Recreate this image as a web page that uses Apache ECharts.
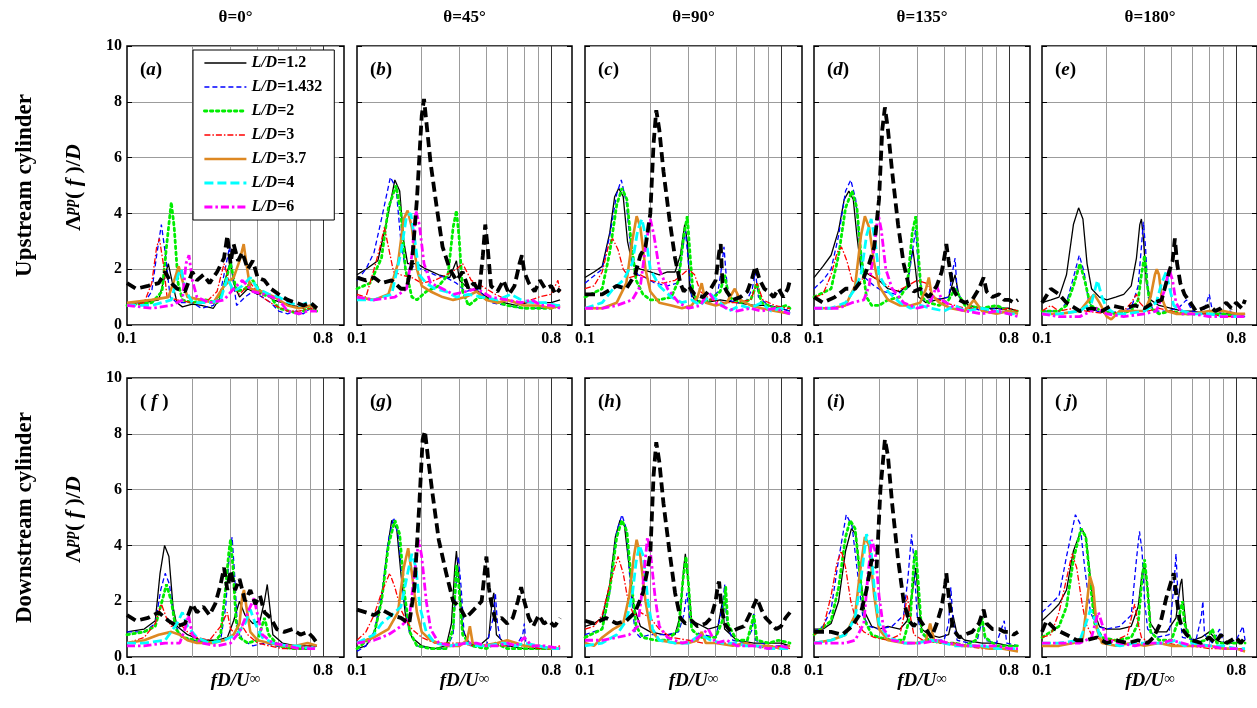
<!DOCTYPE html>
<html><head><meta charset="utf-8">
<script src="https://cdn.jsdelivr.net/npm/echarts@6/dist/echarts.min.js"></script>
<style>html,body{margin:0;padding:0;background:#fff}#c{width:1257px;height:708px}</style>
</head><body><div id="c"></div><script>
// ---------- labels ----------
const thetaLabels = ['θ=0°','θ=45°','θ=90°','θ=135°','θ=180°'];
const panelLetters = ['a','b','c','d','e','f','g','h','i','j'];
const seriesNames = ['L/D=1.2','L/D=1.432','L/D=2','L/D=3','L/D=3.7','L/D=4','L/D=6','Reference'];
const xTickLabels = [0.1, 0.8];
const xGridValues = [0.2,0.3,0.4,0.5,0.6,0.7,0.8];
const yMin = 0, yMax = 10, yStep = 2;
const xMin = 0.1, xMax = 1;
const rowNames = ['Upstream cylinder','Downstream cylinder'];

// ---------- data: [fD/U, Lambda_pp/D] ----------
// (a)
const a_ld12=[[0.1,0.8],[0.12,0.8],[0.14,0.9],[0.15,1.8],[0.155,2.2],[0.162,1.5],[0.17,0.8],[0.18,0.65],[0.2,0.75],[0.22,0.7],[0.25,0.6],[0.27,1.0],[0.29,1.9],[0.3,2.3],[0.31,1.5],[0.33,1.0],[0.36,1.3],[0.4,1.1],[0.43,1.2],[0.47,0.9],[0.52,0.8],[0.58,0.7],[0.65,0.6],[0.7,0.7],[0.75,0.5]];
const a_ld1432=[[0.1,0.8],[0.12,0.8],[0.13,1.2],[0.137,2.5],[0.144,3.6],[0.15,2.6],[0.158,1.0],[0.17,0.8],[0.2,0.8],[0.22,0.6],[0.25,0.7],[0.27,1.2],[0.29,2.4],[0.297,2.8],[0.31,1.5],[0.32,0.7],[0.35,1.0],[0.38,1.2],[0.42,1.0],[0.46,0.8],[0.5,0.5],[0.55,0.4],[0.6,0.5],[0.65,0.4],[0.7,0.6],[0.75,0.5]];
const a_ld2=[[0.1,0.7],[0.13,0.8],[0.145,1.2],[0.152,2.8],[0.16,4.4],[0.165,3.5],[0.172,1.5],[0.18,0.9],[0.2,0.8],[0.23,0.9],[0.26,0.8],[0.28,1.4],[0.3,2.2],[0.32,1.2],[0.35,1.3],[0.38,1.6],[0.42,1.1],[0.46,1.0],[0.5,0.6],[0.56,0.5],[0.62,0.4],[0.68,0.6],[0.75,0.5]];
const a_ld3=[[0.1,0.7],[0.12,0.8],[0.13,1.5],[0.137,2.8],[0.141,3.1],[0.147,2.2],[0.153,1.0],[0.17,0.9],[0.2,0.8],[0.23,0.8],[0.26,1.2],[0.28,2.2],[0.3,1.4],[0.33,1.1],[0.37,1.5],[0.42,1.0],[0.48,0.7],[0.55,0.5],[0.62,0.5],[0.7,0.6],[0.75,0.5]];
const a_ld37=[[0.1,0.8],[0.13,0.9],[0.155,1.0],[0.165,1.6],[0.173,2.1],[0.18,1.6],[0.19,1.0],[0.22,0.9],[0.25,0.8],[0.28,1.4],[0.31,1.7],[0.33,2.3],[0.345,2.9],[0.355,2.2],[0.37,1.3],[0.42,1.2],[0.48,1.0],[0.55,0.7],[0.62,0.6],[0.7,0.7],[0.75,0.6]];
const a_ld4=[[0.1,0.7],[0.13,0.7],[0.16,0.9],[0.172,1.8],[0.178,2.0],[0.185,1.3],[0.2,0.8],[0.24,0.8],[0.27,0.9],[0.29,1.7],[0.31,1.2],[0.34,1.4],[0.37,1.7],[0.4,1.3],[0.45,1.1],[0.5,1.0],[0.56,0.8],[0.62,0.7],[0.68,0.8],[0.73,0.7]];
const a_ld6=[[0.1,0.7],[0.13,0.6],[0.16,0.7],[0.18,0.9],[0.187,2.2],[0.193,2.5],[0.2,1.6],[0.21,1.0],[0.24,0.8],[0.28,0.9],[0.31,1.3],[0.34,1.6],[0.38,1.2],[0.43,1.1],[0.5,0.9],[0.55,0.5],[0.62,0.4],[0.68,0.5],[0.75,0.5]];
const a_ref=[[0.1,1.5],[0.11,1.3],[0.125,1.4],[0.14,1.5],[0.15,1.9],[0.16,1.5],[0.17,1.3],[0.185,1.2],[0.2,1.9],[0.21,1.6],[0.225,1.8],[0.24,1.5],[0.26,1.9],[0.28,2.4],[0.29,3.2],[0.3,2.2],[0.31,2.9],[0.325,2.3],[0.34,2.6],[0.36,2.0],[0.38,2.3],[0.4,1.7],[0.43,1.6],[0.46,1.3],[0.5,1.1],[0.55,0.9],[0.6,0.8],[0.65,0.7],[0.7,0.8],[0.75,0.6]];
// (b)
const b_ld12=[[0.1,1.8],[0.11,2.0],[0.125,2.3],[0.14,4.0],[0.15,5.2],[0.158,4.8],[0.165,3.0],[0.172,2.2],[0.19,2.2],[0.21,2.0],[0.24,1.8],[0.27,1.7],[0.29,2.3],[0.3,1.6],[0.33,1.3],[0.37,1.2],[0.42,0.9],[0.48,0.8],[0.55,0.7],[0.62,0.8],[0.7,0.8],[0.8,0.8],[0.88,0.9]];
const b_ld1432=[[0.1,1.6],[0.11,2.0],[0.12,2.6],[0.13,3.8],[0.143,5.3],[0.152,4.9],[0.16,3.0],[0.168,2.0],[0.18,2.1],[0.2,2.0],[0.23,1.8],[0.26,1.7],[0.29,1.5],[0.32,1.2],[0.36,1.3],[0.42,0.8],[0.5,0.7],[0.58,0.6],[0.65,0.6],[0.72,0.6],[0.8,0.6],[0.88,0.7]];
const b_ld2=[[0.1,1.3],[0.115,1.5],[0.13,2.4],[0.14,4.2],[0.152,5.0],[0.16,4.0],[0.168,2.0],[0.18,1.0],[0.19,0.9],[0.21,1.2],[0.24,1.4],[0.265,1.8],[0.28,3.5],[0.29,4.1],[0.298,3.2],[0.31,1.2],[0.33,0.7],[0.37,1.0],[0.42,0.9],[0.5,0.7],[0.6,0.6],[0.7,0.6],[0.8,0.6],[0.88,0.7]];
const b_ld3=[[0.1,1.1],[0.11,1.0],[0.12,2.0],[0.128,2.8],[0.134,3.5],[0.14,2.8],[0.148,1.9],[0.16,1.8],[0.18,1.7],[0.2,1.5],[0.23,1.6],[0.26,1.8],[0.29,2.0],[0.31,2.2],[0.34,1.6],[0.38,1.4],[0.44,1.1],[0.5,0.9],[0.6,0.8],[0.7,1.0],[0.8,1.1],[0.86,1.6],[0.88,1.2]];
const b_ld37=[[0.1,1.0],[0.12,0.9],[0.14,1.1],[0.155,2.2],[0.165,3.8],[0.172,4.1],[0.18,3.5],[0.19,2.0],[0.2,1.4],[0.22,1.2],[0.25,1.0],[0.28,0.9],[0.32,1.0],[0.36,1.2],[0.4,0.9],[0.45,0.8],[0.5,0.9],[0.6,0.7],[0.7,0.7],[0.8,0.6],[0.88,0.7]];
const b_ld4=[[0.1,0.9],[0.12,0.9],[0.145,1.1],[0.16,2.6],[0.17,3.9],[0.178,4.0],[0.186,3.0],[0.195,1.8],[0.21,1.5],[0.23,1.3],[0.26,1.2],[0.29,1.0],[0.33,1.1],[0.38,1.0],[0.45,0.9],[0.52,1.1],[0.58,0.9],[0.66,0.8],[0.75,0.8],[0.85,0.7],[0.88,0.7]];
const b_ld6=[[0.1,1.0],[0.12,0.9],[0.15,1.0],[0.17,1.3],[0.18,2.5],[0.188,4.1],[0.195,3.6],[0.205,2.2],[0.22,1.5],[0.25,1.3],[0.28,1.1],[0.32,1.2],[0.36,1.3],[0.42,1.0],[0.5,0.9],[0.58,0.8],[0.65,0.9],[0.72,0.7],[0.8,0.7],[0.88,0.6]];
const b_ref=[[0.1,1.7],[0.11,1.6],[0.12,1.7],[0.13,1.5],[0.145,1.6],[0.16,1.3],[0.17,1.3],[0.18,2.2],[0.19,4.5],[0.2,7.5],[0.205,8.1],[0.212,7.0],[0.22,5.8],[0.235,4.2],[0.25,2.8],[0.27,2.0],[0.29,1.6],[0.31,1.9],[0.33,1.3],[0.35,1.5],[0.37,1.2],[0.385,2.5],[0.395,3.6],[0.405,2.8],[0.42,1.4],[0.45,1.2],[0.48,1.6],[0.51,1.1],[0.54,1.4],[0.57,2.2],[0.585,2.5],[0.6,1.9],[0.63,1.5],[0.67,1.2],[0.71,1.6],[0.75,1.3],[0.8,1.4],[0.84,1.1],[0.88,1.3]];
// (c)
const c_ld12=[[0.1,1.7],[0.11,1.9],[0.12,2.1],[0.13,3.3],[0.137,4.6],[0.143,4.9],[0.15,4.6],[0.157,3.0],[0.165,2.2],[0.18,2.0],[0.2,1.9],[0.22,1.8],[0.24,1.9],[0.26,1.9],[0.275,2.5],[0.288,3.6],[0.296,3.0],[0.305,1.2],[0.32,0.9],[0.36,0.8],[0.42,0.9],[0.5,0.8],[0.6,0.7],[0.7,0.7],[0.8,0.6],[0.88,0.5]];
const c_ld1432=[[0.1,1.5],[0.12,2.0],[0.13,3.2],[0.14,4.7],[0.147,5.2],[0.155,4.4],[0.163,2.6],[0.175,1.8],[0.19,1.7],[0.21,1.5],[0.24,1.4],[0.265,1.5],[0.28,2.5],[0.29,3.4],[0.3,2.2],[0.31,1.0],[0.34,0.8],[0.38,0.9],[0.41,1.2],[0.425,2.0],[0.437,2.8],[0.447,1.8],[0.46,0.9],[0.5,0.8],[0.55,0.8],[0.59,1.3],[0.61,1.9],[0.63,1.0],[0.7,0.7],[0.8,0.6],[0.88,0.5]];
const c_ld2=[[0.1,1.0],[0.12,1.3],[0.13,2.6],[0.14,4.3],[0.148,4.9],[0.156,4.5],[0.163,3.0],[0.172,1.6],[0.185,1.1],[0.2,0.9],[0.22,0.9],[0.25,1.0],[0.27,1.6],[0.285,3.2],[0.296,3.9],[0.305,2.5],[0.315,1.1],[0.34,0.8],[0.38,0.9],[0.42,1.2],[0.44,1.8],[0.46,1.0],[0.52,0.8],[0.58,0.9],[0.62,1.5],[0.65,0.8],[0.75,0.6],[0.85,0.7],[0.88,0.6]];
const c_ld3=[[0.1,1.3],[0.11,1.4],[0.12,1.9],[0.128,2.8],[0.134,3.1],[0.142,2.7],[0.15,2.0],[0.16,1.7],[0.18,1.8],[0.2,1.6],[0.23,1.5],[0.26,1.6],[0.28,1.8],[0.3,2.0],[0.32,1.8],[0.34,1.2],[0.38,0.9],[0.44,0.8],[0.5,0.8],[0.58,0.9],[0.62,1.5],[0.66,0.9],[0.75,0.7],[0.85,0.6],[0.88,0.6]];
const c_ld37=[[0.1,0.6],[0.12,0.6],[0.14,0.8],[0.155,1.5],[0.165,3.0],[0.173,3.9],[0.18,3.5],[0.19,2.0],[0.2,1.2],[0.22,0.8],[0.25,0.7],[0.28,0.6],[0.31,0.7],[0.33,1.0],[0.345,1.5],[0.36,0.8],[0.4,0.7],[0.45,0.8],[0.49,1.3],[0.52,0.9],[0.58,0.7],[0.65,0.6],[0.75,0.5],[0.88,0.4]];
const c_ld4=[[0.1,0.6],[0.12,0.8],[0.135,1.3],[0.15,1.6],[0.165,2.2],[0.175,3.4],[0.183,3.8],[0.19,3.2],[0.2,2.0],[0.22,1.4],[0.25,1.0],[0.28,0.8],[0.31,0.9],[0.34,0.7],[0.38,1.1],[0.42,0.8],[0.46,0.5],[0.52,0.7],[0.58,0.6],[0.65,0.8],[0.72,0.5],[0.8,0.6],[0.88,0.4]];
const c_ld6=[[0.1,0.6],[0.12,0.6],[0.14,0.7],[0.165,0.9],[0.18,1.4],[0.19,2.8],[0.2,3.8],[0.208,3.2],[0.22,2.0],[0.24,1.3],[0.27,0.8],[0.3,0.6],[0.34,0.7],[0.37,1.2],[0.4,0.8],[0.45,0.6],[0.5,0.5],[0.58,0.6],[0.65,0.5],[0.75,0.6],[0.88,0.4]];
const c_ref=[[0.1,1.1],[0.12,1.1],[0.14,1.4],[0.155,1.3],[0.17,1.8],[0.18,2.5],[0.19,2.8],[0.2,4.0],[0.207,6.5],[0.213,7.7],[0.22,7.0],[0.23,5.5],[0.245,3.8],[0.26,2.4],[0.275,1.5],[0.285,1.2],[0.3,1.4],[0.32,1.1],[0.35,1.0],[0.38,1.3],[0.4,1.6],[0.415,2.6],[0.422,2.9],[0.43,1.5],[0.45,1.2],[0.48,0.9],[0.52,1.0],[0.56,1.2],[0.59,1.7],[0.61,2.1],[0.64,1.6],[0.67,1.3],[0.7,1.2],[0.74,1.0],[0.78,1.3],[0.82,1.0],[0.86,1.3],[0.88,1.6]];
// (d)
const d_ld12=[[0.1,1.7],[0.11,2.1],[0.12,2.5],[0.13,3.4],[0.138,4.5],[0.145,4.8],[0.152,4.5],[0.158,3.2],[0.165,2.0],[0.18,1.8],[0.2,1.6],[0.22,1.3],[0.25,1.2],[0.27,1.4],[0.28,2.3],[0.287,2.7],[0.295,2.0],[0.305,1.0],[0.33,0.8],[0.37,0.9],[0.42,1.0],[0.45,1.8],[0.47,1.0],[0.52,0.7],[0.6,0.6],[0.7,0.6],[0.8,0.6],[0.88,0.5]];
const d_ld1432=[[0.1,1.3],[0.11,1.6],[0.12,2.0],[0.13,3.2],[0.14,4.8],[0.148,5.2],[0.156,4.5],[0.163,2.8],[0.172,1.7],[0.19,1.4],[0.21,1.2],[0.24,1.1],[0.27,1.3],[0.285,2.6],[0.295,3.4],[0.305,2.0],[0.32,0.9],[0.36,0.9],[0.42,1.0],[0.44,2.0],[0.45,2.4],[0.46,1.2],[0.5,0.7],[0.6,0.5],[0.7,0.6],[0.8,0.5],[0.88,0.4]];
const d_ld2=[[0.1,1.0],[0.12,1.3],[0.13,2.5],[0.14,4.2],[0.15,4.8],[0.158,4.2],[0.165,2.5],[0.175,1.0],[0.185,0.7],[0.2,0.7],[0.22,0.9],[0.25,1.0],[0.27,1.4],[0.285,3.3],[0.296,3.9],[0.305,2.4],[0.315,1.0],[0.34,0.8],[0.38,0.7],[0.42,0.9],[0.45,1.3],[0.5,0.7],[0.6,0.6],[0.7,0.7],[0.8,0.5],[0.88,0.5]];
const d_ld3=[[0.1,1.0],[0.11,1.1],[0.12,1.8],[0.128,2.6],[0.134,2.8],[0.142,2.3],[0.15,1.6],[0.16,1.4],[0.175,1.9],[0.19,1.7],[0.21,1.5],[0.24,1.2],[0.27,1.4],[0.3,1.6],[0.33,1.5],[0.36,1.0],[0.4,0.8],[0.45,0.7],[0.5,0.6],[0.6,0.6],[0.7,0.5],[0.8,0.6],[0.88,0.5]];
const d_ld37=[[0.1,0.6],[0.12,0.6],[0.14,0.7],[0.155,1.4],[0.165,3.2],[0.172,3.9],[0.18,3.5],[0.19,2.2],[0.2,1.4],[0.22,0.9],[0.25,0.7],[0.28,0.7],[0.31,0.8],[0.33,1.3],[0.34,1.7],[0.35,1.1],[0.38,0.8],[0.43,0.6],[0.5,0.5],[0.55,0.9],[0.6,0.5],[0.7,0.4],[0.8,0.5],[0.88,0.4]];
const d_ld4=[[0.1,0.6],[0.12,0.6],[0.14,0.8],[0.155,1.3],[0.165,1.8],[0.175,3.2],[0.184,3.8],[0.192,3.0],[0.2,1.8],[0.22,1.2],[0.25,0.8],[0.28,0.6],[0.31,0.7],[0.35,0.6],[0.4,0.5],[0.45,0.7],[0.5,0.5],[0.6,0.6],[0.7,0.5],[0.8,0.4],[0.88,0.4]];
const d_ld6=[[0.1,0.6],[0.13,0.6],[0.15,0.8],[0.17,0.9],[0.18,1.4],[0.19,2.8],[0.198,4.0],[0.205,3.4],[0.215,2.0],[0.23,1.3],[0.26,0.8],[0.3,0.6],[0.34,0.7],[0.37,1.4],[0.39,0.9],[0.45,0.6],[0.5,0.5],[0.6,0.4],[0.7,0.5],[0.8,0.4],[0.88,0.3]];
const d_ref=[[0.1,1.0],[0.11,0.8],[0.125,1.0],[0.14,1.3],[0.155,1.3],[0.17,1.7],[0.18,2.2],[0.19,2.8],[0.2,4.5],[0.207,7.0],[0.213,7.8],[0.22,7.0],[0.23,5.5],[0.245,3.6],[0.26,2.2],[0.275,1.4],[0.29,1.2],[0.31,1.3],[0.34,1.0],[0.37,1.4],[0.39,1.9],[0.405,2.6],[0.41,2.9],[0.42,2.3],[0.44,1.3],[0.47,0.9],[0.5,0.8],[0.54,0.9],[0.58,1.3],[0.61,1.7],[0.63,1.2],[0.67,1.0],[0.72,1.1],[0.76,0.9],[0.8,0.9],[0.84,0.8],[0.88,0.9]];
// (e)
const e_ld12=[[0.1,0.8],[0.11,0.9],[0.12,1.0],[0.13,1.8],[0.14,3.6],[0.148,4.2],[0.155,3.8],[0.162,2.2],[0.17,1.3],[0.185,1.0],[0.2,0.9],[0.22,1.0],[0.24,1.1],[0.26,1.4],[0.275,2.4],[0.285,3.6],[0.29,3.8],[0.297,3.0],[0.305,1.6],[0.32,0.9],[0.35,0.7],[0.4,0.6],[0.45,0.5],[0.5,0.5],[0.6,0.4],[0.7,0.4],[0.8,0.4],[0.88,0.4]];
const e_ld1432=[[0.1,0.5],[0.12,0.5],[0.13,0.8],[0.14,1.7],[0.149,2.5],[0.157,1.9],[0.165,0.8],[0.18,0.5],[0.2,0.4],[0.23,0.5],[0.26,0.6],[0.28,1.4],[0.29,2.8],[0.296,3.7],[0.303,2.8],[0.312,1.0],[0.33,0.5],[0.38,0.5],[0.43,0.6],[0.47,0.9],[0.5,0.5],[0.56,0.4],[0.6,1.1],[0.62,0.5],[0.7,0.4],[0.75,0.5],[0.8,0.4],[0.88,0.3]];
const e_ld2=[[0.1,0.5],[0.12,0.5],[0.13,0.7],[0.14,1.4],[0.15,2.2],[0.158,1.6],[0.168,0.7],[0.19,0.5],[0.22,0.4],[0.26,0.5],[0.28,0.9],[0.29,1.8],[0.3,2.5],[0.308,1.5],[0.32,0.6],[0.35,0.4],[0.4,0.5],[0.45,0.4],[0.5,0.4],[0.6,0.4],[0.7,0.4],[0.8,0.3],[0.88,0.3]];
const e_ld3=[[0.1,0.5],[0.11,0.7],[0.12,0.5],[0.14,0.6],[0.16,0.5],[0.2,0.4],[0.24,0.5],[0.26,0.8],[0.275,1.1],[0.285,0.8],[0.31,0.5],[0.35,0.6],[0.4,0.5],[0.45,0.4],[0.5,0.4],[0.6,0.4],[0.7,0.3],[0.8,0.3],[0.88,0.4]];
const e_ld37=[[0.1,0.4],[0.12,0.4],[0.15,0.5],[0.165,0.9],[0.175,1.1],[0.185,0.8],[0.2,0.3],[0.21,0.2],[0.23,0.5],[0.26,0.5],[0.3,0.5],[0.32,1.0],[0.335,1.8],[0.342,2.0],[0.35,1.8],[0.36,1.0],[0.38,0.5],[0.42,0.4],[0.5,0.4],[0.6,0.5],[0.7,0.5],[0.8,0.4],[0.88,0.4]];
const e_ld4=[[0.1,0.4],[0.12,0.4],[0.15,0.5],[0.17,0.8],[0.181,1.6],[0.19,1.0],[0.2,0.6],[0.22,0.4],[0.25,0.4],[0.3,0.5],[0.34,0.8],[0.36,1.5],[0.378,1.9],[0.39,1.4],[0.41,0.7],[0.45,0.5],[0.5,0.4],[0.6,0.4],[0.7,0.3],[0.8,0.3],[0.88,0.3]];
const e_ld6=[[0.1,0.4],[0.12,0.3],[0.15,0.3],[0.18,0.6],[0.2,0.4],[0.24,0.3],[0.3,0.4],[0.34,0.5],[0.37,1.2],[0.39,2.0],[0.405,1.6],[0.42,0.8],[0.45,0.4],[0.5,0.4],[0.6,0.3],[0.7,0.3],[0.8,0.3],[0.88,0.3]];
const e_ref=[[0.1,0.8],[0.11,1.3],[0.12,1.1],[0.13,0.8],[0.15,0.5],[0.17,0.6],[0.19,0.5],[0.21,0.7],[0.24,0.6],[0.27,0.7],[0.3,0.6],[0.33,0.8],[0.36,0.9],[0.39,1.9],[0.405,2.3],[0.415,3.1],[0.425,2.2],[0.44,1.5],[0.46,1.1],[0.48,0.9],[0.52,0.5],[0.56,0.6],[0.6,0.7],[0.64,0.5],[0.68,0.6],[0.72,0.8],[0.76,0.6],[0.8,0.8],[0.85,0.6],[0.88,0.9]];
// (f)
const f_ld12=[[0.1,0.9],[0.12,1.0],[0.135,1.3],[0.142,3.0],[0.149,4.0],[0.156,3.6],[0.163,1.8],[0.17,1.1],[0.19,0.8],[0.22,0.6],[0.26,0.6],[0.29,0.7],[0.31,1.3],[0.33,2.0],[0.35,1.5],[0.38,1.2],[0.41,1.3],[0.43,2.0],[0.443,2.6],[0.455,1.8],[0.47,0.8],[0.52,0.5],[0.6,0.4],[0.68,0.4],[0.75,0.4]];
const f_ld1432=[[0.1,0.9],[0.12,0.9],[0.135,1.2],[0.143,2.4],[0.15,3.0],[0.157,2.6],[0.165,1.2],[0.18,0.7],[0.2,0.6],[0.24,0.5],[0.27,0.6],[0.285,1.8],[0.295,3.5],[0.305,4.3],[0.313,3.0],[0.322,1.2],[0.34,0.6],[0.38,0.4],[0.43,0.5],[0.48,0.4],[0.55,0.3],[0.62,0.3],[0.7,0.3],[0.75,0.4]];
const f_ld2=[[0.1,0.8],[0.12,0.9],[0.135,1.1],[0.145,2.0],[0.152,2.6],[0.16,2.0],[0.168,1.0],[0.18,0.7],[0.21,0.6],[0.25,0.5],[0.27,0.8],[0.285,2.5],[0.295,3.8],[0.3,4.2],[0.308,3.2],[0.318,1.3],[0.33,0.7],[0.36,0.5],[0.4,0.6],[0.43,1.4],[0.45,0.8],[0.5,0.4],[0.58,0.3],[0.65,0.3],[0.75,0.3]];
const f_ld3=[[0.1,0.5],[0.12,0.7],[0.135,1.2],[0.144,1.9],[0.152,1.4],[0.16,1.1],[0.175,1.2],[0.19,0.9],[0.21,0.7],[0.24,0.6],[0.27,1.1],[0.29,1.6],[0.3,1.0],[0.32,0.8],[0.34,1.1],[0.36,0.8],[0.4,0.5],[0.45,0.4],[0.52,0.3],[0.6,0.3],[0.68,0.4],[0.75,0.4]];
const f_ld37=[[0.1,0.5],[0.12,0.6],[0.14,0.8],[0.16,0.9],[0.175,0.8],[0.19,0.6],[0.21,0.5],[0.25,0.5],[0.28,0.6],[0.31,0.8],[0.33,1.2],[0.34,2.2],[0.346,2.4],[0.355,1.8],[0.37,0.9],[0.4,0.6],[0.45,0.5],[0.52,0.4],[0.6,0.4],[0.68,0.5],[0.75,0.4]];
const f_ld4=[[0.1,0.5],[0.12,0.5],[0.15,0.6],[0.17,1.2],[0.18,1.6],[0.19,1.1],[0.21,0.7],[0.24,0.5],[0.28,0.6],[0.32,0.8],[0.35,1.2],[0.37,1.7],[0.39,1.2],[0.42,0.7],[0.47,0.5],[0.55,0.4],[0.62,0.4],[0.7,0.3],[0.75,0.4]];
const f_ld6=[[0.1,0.4],[0.12,0.4],[0.15,0.5],[0.175,0.5],[0.185,1.0],[0.192,1.5],[0.2,0.8],[0.22,0.5],[0.26,0.4],[0.3,0.5],[0.33,0.9],[0.36,1.6],[0.385,2.1],[0.4,1.5],[0.42,0.8],[0.47,0.5],[0.55,0.4],[0.62,0.3],[0.7,0.3],[0.75,0.3]];
const f_ref=[[0.1,1.5],[0.11,1.3],[0.125,1.4],[0.14,1.6],[0.155,1.3],[0.17,1.1],[0.185,1.2],[0.2,1.9],[0.21,1.6],[0.225,1.8],[0.24,1.5],[0.255,1.9],[0.27,2.6],[0.28,3.2],[0.29,2.4],[0.3,3.1],[0.315,2.4],[0.33,2.8],[0.35,2.0],[0.37,2.4],[0.39,1.9],[0.41,2.2],[0.43,1.6],[0.46,1.4],[0.49,1.0],[0.53,0.9],[0.58,1.0],[0.63,0.8],[0.68,0.9],[0.72,0.7],[0.75,0.5]];
// (g)
const g_ld12=[[0.1,0.3],[0.11,0.4],[0.12,0.8],[0.13,2.0],[0.138,3.8],[0.145,4.9],[0.153,4.6],[0.16,3.0],[0.168,1.5],[0.18,0.7],[0.2,0.4],[0.23,0.3],[0.26,0.4],[0.275,1.2],[0.285,3.2],[0.29,3.8],[0.298,2.8],[0.31,1.0],[0.33,0.5],[0.37,0.4],[0.41,0.7],[0.425,2.0],[0.433,2.3],[0.445,0.8],[0.5,0.4],[0.6,0.3],[0.7,0.3],[0.8,0.3],[0.88,0.3]];
const g_ld1432=[[0.1,0.2],[0.11,0.4],[0.12,0.9],[0.13,2.2],[0.14,4.2],[0.148,5.0],[0.156,4.3],[0.164,2.3],[0.175,0.9],[0.19,0.4],[0.22,0.3],[0.26,0.3],[0.28,0.8],[0.29,2.8],[0.296,3.6],[0.305,2.5],[0.315,0.8],[0.34,0.4],[0.4,0.4],[0.43,1.4],[0.44,2.3],[0.45,1.2],[0.47,0.4],[0.55,0.4],[0.59,0.8],[0.6,1.2],[0.61,0.5],[0.7,0.3],[0.8,0.3],[0.88,0.3]];
const g_ld2=[[0.1,0.3],[0.12,0.8],[0.13,2.0],[0.14,4.0],[0.15,4.9],[0.158,4.4],[0.166,2.3],[0.176,0.9],[0.19,0.4],[0.22,0.3],[0.26,0.3],[0.28,1.0],[0.29,3.3],[0.297,2.6],[0.31,0.8],[0.34,0.4],[0.4,0.3],[0.44,0.5],[0.5,0.3],[0.6,0.3],[0.7,0.3],[0.8,0.3],[0.88,0.3]];
const g_ld3=[[0.1,0.6],[0.11,0.9],[0.12,1.5],[0.13,2.3],[0.142,3.0],[0.15,2.5],[0.16,1.7],[0.17,1.3],[0.18,1.0],[0.2,0.7],[0.23,0.5],[0.27,0.5],[0.3,0.5],[0.35,0.4],[0.4,0.4],[0.5,0.4],[0.6,0.4],[0.7,0.3],[0.8,0.3],[0.88,0.4]];
const g_ld37=[[0.1,0.5],[0.12,0.7],[0.14,1.0],[0.155,1.6],[0.165,3.2],[0.173,3.9],[0.18,3.0],[0.19,1.6],[0.2,0.9],[0.22,0.6],[0.26,0.4],[0.3,0.4],[0.325,0.6],[0.335,1.1],[0.345,0.5],[0.38,0.4],[0.45,0.5],[0.5,0.6],[0.55,0.5],[0.6,0.4],[0.7,0.4],[0.8,0.3],[0.88,0.3]];
const g_ld4=[[0.1,0.5],[0.12,0.8],[0.13,1.2],[0.145,1.5],[0.16,1.8],[0.172,3.0],[0.18,3.7],[0.188,3.2],[0.196,1.8],[0.21,0.9],[0.23,0.5],[0.27,0.4],[0.32,0.5],[0.36,0.4],[0.4,0.4],[0.48,0.5],[0.55,0.4],[0.6,0.5],[0.7,0.4],[0.8,0.3],[0.88,0.3]];
const g_ld6=[[0.1,0.5],[0.12,0.6],[0.14,0.8],[0.16,1.1],[0.175,1.4],[0.185,3.0],[0.194,4.2],[0.2,3.6],[0.21,2.0],[0.22,1.0],[0.24,0.5],[0.28,0.4],[0.32,0.5],[0.36,0.5],[0.4,0.4],[0.45,0.4],[0.5,0.5],[0.55,0.4],[0.6,0.7],[0.65,0.4],[0.75,0.4],[0.88,0.3]];
const g_ref=[[0.1,1.7],[0.11,1.6],[0.12,1.5],[0.13,1.7],[0.145,1.5],[0.16,1.4],[0.175,1.2],[0.185,2.5],[0.195,5.5],[0.202,7.8],[0.207,8.1],[0.215,7.0],[0.225,5.8],[0.24,4.2],[0.26,3.0],[0.28,2.0],[0.3,1.8],[0.32,1.4],[0.34,1.6],[0.36,1.8],[0.38,2.0],[0.392,3.0],[0.4,3.6],[0.41,2.5],[0.42,2.0],[0.44,1.3],[0.47,1.4],[0.5,1.2],[0.53,1.4],[0.56,2.0],[0.58,2.5],[0.6,2.0],[0.63,1.4],[0.66,1.1],[0.7,1.5],[0.74,1.2],[0.78,1.3],[0.83,1.1],[0.88,1.4]];
// (h)
const h_ld12=[[0.1,1.1],[0.11,1.2],[0.12,1.4],[0.13,2.6],[0.138,4.3],[0.145,4.9],[0.152,4.7],[0.16,3.2],[0.168,1.8],[0.18,1.1],[0.2,0.9],[0.23,0.8],[0.26,0.8],[0.275,1.5],[0.285,3.2],[0.29,3.7],[0.298,2.8],[0.31,1.3],[0.33,1.2],[0.37,1.0],[0.41,1.1],[0.43,2.0],[0.44,1.0],[0.5,0.6],[0.6,0.5],[0.7,0.5],[0.8,0.5],[0.88,0.4]];
const h_ld1432=[[0.1,0.8],[0.12,1.0],[0.13,2.3],[0.14,4.5],[0.148,5.1],[0.155,4.6],[0.162,2.5],[0.17,0.9],[0.18,0.7],[0.2,0.8],[0.24,0.8],[0.27,0.9],[0.285,1.5],[0.295,2.3],[0.303,1.4],[0.315,0.9],[0.35,0.8],[0.4,0.7],[0.43,1.8],[0.44,2.6],[0.45,1.2],[0.48,0.6],[0.55,0.5],[0.59,1.0],[0.6,1.6],[0.61,0.6],[0.7,0.4],[0.8,0.4],[0.88,0.4]];
const h_ld2=[[0.1,0.7],[0.12,1.0],[0.13,2.4],[0.14,4.3],[0.148,4.9],[0.156,4.5],[0.164,2.6],[0.172,1.1],[0.185,0.7],[0.21,0.6],[0.24,0.6],[0.27,1.0],[0.283,2.8],[0.292,3.6],[0.3,2.6],[0.31,1.0],[0.34,0.7],[0.4,0.7],[0.43,1.3],[0.445,2.5],[0.455,1.2],[0.5,0.6],[0.56,0.6],[0.6,1.5],[0.62,0.6],[0.7,0.5],[0.78,0.6],[0.88,0.5]];
const h_ld3=[[0.1,1.0],[0.11,1.1],[0.12,1.5],[0.13,2.6],[0.142,3.6],[0.15,3.0],[0.158,2.0],[0.168,1.5],[0.18,1.6],[0.2,1.4],[0.22,1.0],[0.25,0.7],[0.3,0.6],[0.35,0.5],[0.4,0.5],[0.45,0.5],[0.5,0.4],[0.6,0.4],[0.7,0.3],[0.8,0.4],[0.88,0.3]];
const h_ld37=[[0.1,0.5],[0.11,0.4],[0.12,0.7],[0.135,1.0],[0.15,1.2],[0.16,2.2],[0.168,3.6],[0.173,4.2],[0.18,3.6],[0.19,2.0],[0.2,1.0],[0.22,0.6],[0.26,0.5],[0.3,0.5],[0.33,0.6],[0.345,0.9],[0.36,0.5],[0.4,0.5],[0.48,0.4],[0.55,0.5],[0.6,0.4],[0.7,0.4],[0.8,0.3],[0.88,0.4]];
const h_ld4=[[0.1,0.4],[0.12,0.5],[0.14,0.8],[0.155,1.3],[0.165,2.2],[0.172,3.4],[0.178,4.0],[0.186,3.6],[0.195,2.0],[0.205,1.0],[0.22,0.6],[0.26,0.5],[0.3,0.5],[0.34,0.8],[0.38,0.6],[0.43,0.5],[0.5,0.5],[0.55,0.4],[0.62,0.4],[0.7,0.3],[0.8,0.3],[0.88,0.3]];
const h_ld6=[[0.1,0.6],[0.12,0.6],[0.14,0.7],[0.16,0.8],[0.175,1.1],[0.185,2.6],[0.194,4.3],[0.2,3.8],[0.21,2.2],[0.22,1.1],[0.24,0.7],[0.28,0.5],[0.32,0.6],[0.37,1.0],[0.4,0.5],[0.45,0.6],[0.5,0.4],[0.6,0.4],[0.7,0.3],[0.8,0.4],[0.88,0.3]];
const h_ref=[[0.1,1.3],[0.11,1.2],[0.125,1.4],[0.14,1.2],[0.155,1.3],[0.17,1.6],[0.185,2.3],[0.195,3.2],[0.2,3.7],[0.207,6.5],[0.213,7.7],[0.22,7.0],[0.23,5.5],[0.245,3.8],[0.26,2.3],[0.275,1.4],[0.29,1.2],[0.31,1.3],[0.33,1.1],[0.36,1.2],[0.38,1.4],[0.4,2.0],[0.41,2.6],[0.415,2.7],[0.425,1.8],[0.44,1.2],[0.47,0.9],[0.5,1.0],[0.54,1.1],[0.58,1.6],[0.62,2.1],[0.65,1.7],[0.68,1.4],[0.72,1.2],[0.76,1.0],[0.8,1.1],[0.84,1.4],[0.88,1.6]];
// (i)
const i_ld12=[[0.1,1.0],[0.11,1.0],[0.12,1.2],[0.13,2.0],[0.14,3.8],[0.149,4.6],[0.156,4.4],[0.163,3.0],[0.172,1.6],[0.185,1.1],[0.2,1.0],[0.22,1.1],[0.25,1.0],[0.27,1.3],[0.285,2.3],[0.296,3.2],[0.305,2.0],[0.315,1.0],[0.34,0.8],[0.38,0.7],[0.42,0.8],[0.44,1.5],[0.46,0.8],[0.5,0.6],[0.6,0.5],[0.7,0.5],[0.8,0.4],[0.88,0.4]];
const i_ld1432=[[0.1,0.9],[0.11,1.1],[0.12,1.7],[0.13,3.5],[0.141,5.1],[0.15,4.7],[0.158,3.2],[0.168,1.5],[0.18,1.1],[0.2,1.0],[0.23,1.1],[0.26,1.5],[0.272,2.8],[0.283,4.4],[0.29,3.5],[0.3,1.5],[0.315,0.8],[0.35,0.6],[0.4,0.6],[0.42,1.2],[0.43,2.5],[0.44,1.3],[0.46,0.6],[0.52,0.5],[0.57,0.6],[0.6,1.3],[0.62,0.6],[0.7,0.5],[0.76,1.3],[0.78,0.5],[0.88,0.4]];
const i_ld2=[[0.1,0.8],[0.12,1.3],[0.13,2.5],[0.14,4.3],[0.147,4.9],[0.155,4.6],[0.163,3.0],[0.172,1.3],[0.185,0.8],[0.2,0.7],[0.23,0.6],[0.26,0.6],[0.28,1.5],[0.29,3.4],[0.296,3.8],[0.305,2.5],[0.315,0.9],[0.34,0.6],[0.4,0.5],[0.45,0.5],[0.5,0.4],[0.56,0.6],[0.6,1.4],[0.62,0.7],[0.7,0.4],[0.8,0.4],[0.88,0.4]];
const i_ld3=[[0.1,0.8],[0.11,1.0],[0.12,2.2],[0.128,3.4],[0.134,3.8],[0.14,3.2],[0.148,2.0],[0.158,1.2],[0.17,0.9],[0.19,0.7],[0.22,0.6],[0.25,0.8],[0.263,1.6],[0.27,2.2],[0.277,1.6],[0.29,0.8],[0.32,0.6],[0.38,0.5],[0.45,0.5],[0.5,0.4],[0.6,0.3],[0.7,0.3],[0.8,0.3],[0.88,0.3]];
const i_ld37=[[0.1,0.5],[0.12,0.6],[0.14,0.8],[0.155,1.5],[0.163,3.0],[0.172,4.3],[0.18,4.0],[0.19,2.2],[0.2,1.0],[0.22,0.6],[0.26,0.5],[0.3,0.5],[0.33,0.6],[0.345,1.2],[0.36,0.6],[0.4,0.5],[0.48,0.4],[0.55,0.4],[0.65,0.3],[0.75,0.3],[0.88,0.2]];
const i_ld4=[[0.1,0.5],[0.12,0.6],[0.14,0.8],[0.155,1.4],[0.165,2.8],[0.175,4.4],[0.183,4.0],[0.19,2.5],[0.2,1.2],[0.22,0.7],[0.26,0.5],[0.3,0.5],[0.35,0.6],[0.4,0.5],[0.45,0.4],[0.5,0.4],[0.6,0.4],[0.7,0.3],[0.8,0.3],[0.88,0.3]];
const i_ld6=[[0.1,0.5],[0.12,0.5],[0.14,0.5],[0.155,0.6],[0.17,1.2],[0.178,3.0],[0.185,4.2],[0.192,3.8],[0.2,2.2],[0.21,1.0],[0.23,0.6],[0.27,0.5],[0.32,0.5],[0.37,0.6],[0.42,0.5],[0.5,0.4],[0.6,0.4],[0.7,0.4],[0.8,0.3],[0.88,0.3]];
const i_ref=[[0.1,0.9],[0.12,0.9],[0.135,0.8],[0.15,1.1],[0.165,1.6],[0.175,2.4],[0.185,3.5],[0.195,3.2],[0.203,6.0],[0.213,7.8],[0.22,7.2],[0.23,5.5],[0.245,3.5],[0.26,2.0],[0.275,1.3],[0.29,1.1],[0.305,1.4],[0.33,1.0],[0.35,0.7],[0.37,1.2],[0.39,1.8],[0.405,2.6],[0.41,3.0],[0.42,2.2],[0.44,1.0],[0.47,0.7],[0.5,0.8],[0.54,0.9],[0.58,1.2],[0.61,1.7],[0.63,1.2],[0.67,1.0],[0.72,1.0],[0.76,0.9],[0.8,0.9],[0.84,0.8],[0.88,0.9]];
// (j)
const j_ld12=[[0.1,1.3],[0.11,1.6],[0.12,1.9],[0.13,2.4],[0.14,3.8],[0.153,4.6],[0.16,4.3],[0.167,3.0],[0.175,1.6],[0.185,1.1],[0.2,1.0],[0.23,1.0],[0.26,1.1],[0.28,1.8],[0.292,3.0],[0.3,3.3],[0.31,2.4],[0.32,1.2],[0.34,0.9],[0.38,0.9],[0.42,1.4],[0.44,2.6],[0.447,2.8],[0.455,2.0],[0.47,0.9],[0.5,0.6],[0.55,0.7],[0.6,0.9],[0.65,0.6],[0.7,0.5],[0.8,0.5],[0.88,0.6]];
const j_ld1432=[[0.1,1.6],[0.11,1.9],[0.12,2.2],[0.13,3.6],[0.143,5.1],[0.15,4.8],[0.158,3.2],[0.168,1.6],[0.18,1.1],[0.2,1.0],[0.23,1.1],[0.26,1.5],[0.275,3.5],[0.284,4.5],[0.292,3.8],[0.3,2.0],[0.31,1.0],[0.34,0.7],[0.39,0.8],[0.41,2.5],[0.42,3.7],[0.43,2.0],[0.45,0.7],[0.52,0.6],[0.55,1.4],[0.56,2.0],[0.57,0.8],[0.62,0.5],[0.67,1.0],[0.7,0.5],[0.8,0.6],[0.86,1.1],[0.88,0.6]];
const j_ld2=[[0.1,0.7],[0.12,1.1],[0.13,1.8],[0.14,3.5],[0.152,4.6],[0.16,4.3],[0.168,2.6],[0.176,1.2],[0.19,0.7],[0.22,0.6],[0.26,0.7],[0.28,1.2],[0.292,2.8],[0.3,3.5],[0.31,2.4],[0.32,0.9],[0.35,0.6],[0.4,0.6],[0.43,1.3],[0.45,2.0],[0.46,1.2],[0.5,0.5],[0.58,0.6],[0.62,1.0],[0.65,0.5],[0.75,0.5],[0.88,0.5]];
const j_ld3=[[0.1,0.7],[0.11,0.8],[0.12,1.6],[0.13,2.8],[0.138,3.7],[0.145,3.2],[0.153,2.0],[0.16,1.2],[0.17,0.8],[0.19,0.6],[0.22,0.6],[0.25,0.8],[0.262,1.5],[0.27,1.9],[0.278,1.3],[0.29,0.7],[0.32,0.5],[0.38,0.5],[0.45,0.4],[0.5,0.4],[0.6,0.3],[0.7,0.3],[0.8,0.3],[0.88,0.3]];
const j_ld37=[[0.1,0.4],[0.12,0.4],[0.14,0.5],[0.155,0.7],[0.16,1.6],[0.167,2.9],[0.173,2.5],[0.18,1.0],[0.19,0.5],[0.22,0.4],[0.26,0.5],[0.3,0.4],[0.35,0.5],[0.4,0.4],[0.5,0.4],[0.6,0.4],[0.7,0.3],[0.8,0.3],[0.88,0.2]];
const j_ld4=[[0.1,0.5],[0.12,0.5],[0.15,0.6],[0.16,1.2],[0.168,1.7],[0.175,1.4],[0.185,0.8],[0.2,0.5],[0.23,0.4],[0.27,0.5],[0.32,0.5],[0.38,0.5],[0.42,0.6],[0.46,0.4],[0.5,0.5],[0.6,0.4],[0.7,0.4],[0.8,0.3],[0.88,0.3]];
const j_ld6=[[0.1,0.5],[0.12,0.5],[0.15,0.5],[0.17,0.7],[0.178,1.3],[0.183,1.6],[0.19,1.2],[0.2,0.6],[0.23,0.5],[0.27,0.4],[0.32,0.5],[0.36,0.5],[0.4,0.6],[0.45,0.5],[0.5,0.4],[0.6,0.4],[0.7,0.3],[0.8,0.3],[0.88,0.2]];
const j_ref=[[0.1,0.9],[0.105,1.3],[0.115,1.0],[0.13,0.8],[0.145,0.6],[0.16,0.6],[0.18,0.7],[0.2,0.5],[0.22,0.6],[0.25,0.5],[0.28,0.6],[0.31,0.5],[0.33,0.7],[0.355,1.2],[0.378,2.1],[0.395,2.6],[0.41,3.0],[0.42,2.3],[0.435,1.4],[0.45,1.0],[0.47,0.8],[0.5,0.6],[0.55,0.5],[0.6,0.7],[0.64,0.5],[0.68,0.8],[0.72,0.5],[0.76,0.6],[0.8,0.7],[0.84,0.5],[0.88,0.7]];

// ---------- assemble ----------
const panelData = [
  [a_ld12,a_ld1432,a_ld2,a_ld3,a_ld37,a_ld4,a_ld6,a_ref],
  [b_ld12,b_ld1432,b_ld2,b_ld3,b_ld37,b_ld4,b_ld6,b_ref],
  [c_ld12,c_ld1432,c_ld2,c_ld3,c_ld37,c_ld4,c_ld6,c_ref],
  [d_ld12,d_ld1432,d_ld2,d_ld3,d_ld37,d_ld4,d_ld6,d_ref],
  [e_ld12,e_ld1432,e_ld2,e_ld3,e_ld37,e_ld4,e_ld6,e_ref],
  [f_ld12,f_ld1432,f_ld2,f_ld3,f_ld37,f_ld4,f_ld6,f_ref],
  [g_ld12,g_ld1432,g_ld2,g_ld3,g_ld37,g_ld4,g_ld6,g_ref],
  [h_ld12,h_ld1432,h_ld2,h_ld3,h_ld37,h_ld4,h_ld6,h_ref],
  [i_ld12,i_ld1432,i_ld2,i_ld3,i_ld37,i_ld4,i_ld6,i_ref],
  [j_ld12,j_ld1432,j_ld2,j_ld3,j_ld37,j_ld4,j_ld6,j_ref]
];

const FONT = '"Liberation Serif","Times New Roman",serif';
const styles = [
  {color:'#000000', width:1.3, type:'solid'},
  {color:'#0000ff', width:1.3, type:[5,3]},
  {color:'#00ee00', width:2.8, type:[2.5,3.5]},
  {color:'#ff0000', width:1.3, type:[6,2,1.5,2]},
  {color:'#dd8822', width:2.6, type:'solid'},
  {color:'#00ffff', width:2.8, type:[9,4]},
  {color:'#ff00ff', width:2.8, type:[8,3,2.5,3]},
  {color:'#000000', width:3.8, type:[10,5]}
];
const colLeft = [127, 357, 585, 814, 1042];
const colWidth = [217, 215, 217, 216, 216];
const rowTop = [46, 378];
const plotH = 279;
const GRIDC = '#9c9c9c';

const grids = [], xAxes = [], yAxes = [], series = [], graphics = [];
panelLetters.forEach((p, k) => {
  const row = Math.floor(k / 5), col = k % 5;
  grids.push({left: colLeft[col], top: rowTop[row], width: colWidth[col], height: plotH,
    show: true, borderColor: '#000', borderWidth: 1.5, backgroundColor: 'transparent'});
  xAxes.push({type: 'log', logBase: 10, gridIndex: k, min: xMin, max: xMax,
    axisLine: {show: false}, axisTick: {show: false}, splitLine: {show: false},
    axisLabel: {show: true, customValues: xTickLabels, margin: 6,
      formatter: v => (Math.round(v * 10) / 10).toFixed(1),
      fontFamily: FONT, fontWeight: 'bold', fontSize: 16, color: '#000'}});
  yAxes.push({type: 'value', gridIndex: k, min: yMin, max: yMax, interval: yStep, position: 'left',
    axisLine: {show: false},
    axisTick: {show: true, inside: true, length: 5, lineStyle: {color: '#000', width: 1}},
    splitLine: {show: true, lineStyle: {color: GRIDC, width: 1}},
    axisLabel: {show: col === 0, margin: 5, fontFamily: FONT, fontWeight: 'bold', fontSize: 16, color: '#000'}});
  yAxes.push({type: 'value', gridIndex: k, min: yMin, max: yMax, interval: yStep, position: 'right',
    axisLine: {show: false},
    axisTick: {show: true, inside: true, length: 5, lineStyle: {color: '#000', width: 1}},
    splitLine: {show: false}, axisLabel: {show: false}});
  // vertical grid lines via markLine
  series.push({type: 'line', name: 'grid', xAxisIndex: k, yAxisIndex: 2 * k, data: [], silent: true,
    markLine: {silent: true, symbol: 'none', z: 1, animation: false, label: {show: false},
      data: xGridValues.map(v => ({xAxis: v, lineStyle: {color: v === 0.8 ? '#333' : GRIDC, width: 1, type: 'solid'}}))}});
  panelData[k].forEach((arr, s) => {
    series.push({type: 'line', name: seriesNames[s], xAxisIndex: k, yAxisIndex: 2 * k,
      data: arr, symbol: 'none', showSymbol: false, smooth: false, silent: true, z: 2 + s * 0.01,
      lineStyle: {color: styles[s].color, width: styles[s].width, type: styles[s].type, cap: s === 2 ? 'round' : 'butt'},
      itemStyle: {color: styles[s].color}});
  });
  // panel label
  let txt;
  if (p === 'f') txt = '{p|( }{l|f}{p| )}';
  else if (p === 'j') txt = '{p|( }{l|j}{p|)}';
  else txt = '{p|(}{l|' + p + '}{p|)}';
  graphics.push({type: 'text', left: colLeft[col] + 13, top: rowTop[row] + 15, z: 20,
    style: {text: txt, rich: {
      p: {fontFamily: FONT, fontWeight: 'bold', fontSize: 19, fill: '#000'},
      l: {fontFamily: FONT, fontWeight: 'bold', fontStyle: 'italic', fontSize: 19, fill: '#000'}}}});
  if (row === 0) {
    graphics.push({type: 'text', x: colLeft[col] + colWidth[col] / 2, y: 18, z: 20,
      style: {text: thetaLabels[col], align: 'center', verticalAlign: 'middle',
        fontFamily: FONT, fontWeight: 'bold', fontSize: 17, fill: '#000'}});
  } else {
    graphics.push({type: 'text', x: colLeft[col] + colWidth[col] / 2, y: 689, z: 20,
      style: {text: '{i|fD/U}{s|∞}', align: 'center', verticalAlign: 'middle',
        rich: {i: {fontFamily: FONT, fontWeight: 'bold', fontStyle: 'italic', fontSize: 19, fill: '#000', lineHeight: 22, verticalAlign: 'top'},
               s: {fontFamily: FONT, fontWeight: 'bold', fontStyle: 'italic', fontSize: 15, fill: '#000', lineHeight: 34, verticalAlign: 'top'}}}});
  }
});

// row titles and y-axis names
[0, 1].forEach(r => {
  const cy = rowTop[r] + plotH / 2;
  graphics.push({type: 'text', x: 25, y: cy, rotation: Math.PI / 2, z: 20,
    style: {text: rowNames[r], align: 'center', verticalAlign: 'middle',
      fontFamily: FONT, fontWeight: 'bold', fontSize: 23, fill: '#000'}});
  graphics.push({type: 'text', x: 81, y: cy + 2, rotation: Math.PI / 2, z: 20,
    style: {text: '{m|Λ}{s|pp}{m|( }{i|f}{m| )/}{i|D}', align: 'center', verticalAlign: 'middle',
      rich: {m: {fontFamily: FONT, fontWeight: 'bold', fontSize: 22, fill: '#000', lineHeight: 24, verticalAlign: 'top'},
             i: {fontFamily: FONT, fontWeight: 'bold', fontStyle: 'italic', fontSize: 22, fill: '#000', lineHeight: 24, verticalAlign: 'top'},
             s: {fontFamily: FONT, fontWeight: 'bold', fontStyle: 'italic', fontSize: 16, fill: '#000', lineHeight: 36, verticalAlign: 'top'}}}});
});

const chart = echarts.init(document.getElementById('c'), null, {renderer: 'canvas'});
chart.setOption({
  animation: false,
  backgroundColor: '#fff',
  grid: grids, xAxis: xAxes, yAxis: yAxes, series: series,
  legend: {data: seriesNames.slice(0, 7), left: 193, top: 50, orient: 'vertical',
    itemWidth: 42, itemHeight: 14, itemGap: 8, padding: [5, 12, 5, 10],
    borderColor: '#000', borderWidth: 1, backgroundColor: '#fff', selectedMode: false, z: 10,
    lineStyle: {width: 'inherit'}, itemStyle: {opacity: 0},
    formatter: name => '{i|L/D}{n|' + name.slice(3) + '}',
    textStyle: {fontFamily: FONT, fontWeight: 'bold', fontSize: 16, color: '#000',
      rich: {i: {fontFamily: FONT, fontWeight: 'bold', fontStyle: 'italic', fontSize: 16, color: '#000'},
             n: {fontFamily: FONT, fontWeight: 'bold', fontSize: 16, color: '#000'}}}},
  graphic: graphics
});
</script></body></html>
